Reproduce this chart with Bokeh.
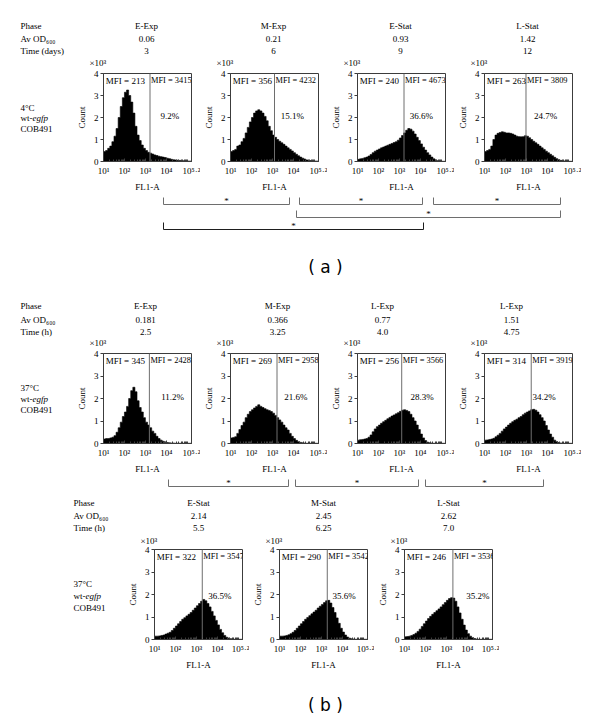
from bokeh.plotting import figure
from bokeh.layouts import column, row
from bokeh.models import Range1d, FixedTicker, Span, Label
from bokeh.core.properties import value
from bokeh.embed import file_html
from bokeh.resources import INLINE

SERIF = "Liberation Serif"
FS = "9px"

# ------------------------------------------------------------------ data
# histogram bins on log10(FL1-A) from 1.0 to 5.2, 0.1 wide; counts in x10^3
XMIN, XMAX, BIN_W = 1.0, 5.2, 0.1

# (a) 4 C cultures
a_phase = ["E-Exp", "M-Exp", "E-Stat", "L-Stat"]
a_od = ["0.06", "0.21", "0.93", "1.42"]
a_time = ["3", "6", "9", "12"]
a_mfi_lo = [213, 356, 240, 263]
a_mfi_hi = [3415, 4232, 4673, 3809]
a_pct = [9.2, 15.1, 36.6, 24.7]
a_gate = [3.22, 3.10, 3.22, 2.98]
counts_a_eexp = [0.45, 0.50, 0.60, 0.70, 0.90, 1.15, 1.50, 2.00, 2.50, 2.90,
                 3.15, 3.25, 3.00, 2.70, 2.20, 1.60, 1.20, 0.95, 0.75, 0.60,
                 0.50, 0.42, 0.38, 0.34, 0.30, 0.27, 0.24, 0.22, 0.20, 0.18,
                 0.15, 0.13, 0.10, 0.08, 0.07, 0.06, 0.05, 0.04, 0.03, 0.03,
                 0.02, 0.02]
counts_a_mexp = [0.45, 0.50, 0.55, 0.70, 0.75, 0.90, 1.05, 1.30, 1.55, 1.80,
                 2.00, 2.20, 2.30, 2.35, 2.30, 2.20, 2.05, 1.85, 1.60, 1.40,
                 1.20, 1.10, 1.00, 0.92, 0.85, 0.78, 0.70, 0.62, 0.55, 0.48,
                 0.40, 0.33, 0.26, 0.20, 0.15, 0.11, 0.07, 0.05, 0.04, 0.03,
                 0.02, 0.02]
counts_a_estat = [0.10, 0.12, 0.14, 0.17, 0.20, 0.25, 0.32, 0.40, 0.47, 0.52,
                  0.57, 0.62, 0.66, 0.70, 0.74, 0.78, 0.82, 0.86, 0.90, 0.97,
                  1.07, 1.18, 1.30, 1.42, 1.50, 1.47, 1.38, 1.25, 1.10, 0.95,
                  0.80, 0.65, 0.52, 0.40, 0.30, 0.20, 0.12, 0.06, 0.03, 0.02,
                  0.01, 0.01]
counts_a_lstat = [0.45, 0.50, 0.55, 0.70, 1.00, 1.20, 1.28, 1.32, 1.35, 1.33,
                  1.30, 1.30, 1.28, 1.25, 1.20, 1.15, 1.13, 1.12, 1.13, 1.17,
                  1.15, 1.08, 1.00, 0.92, 0.85, 0.78, 0.70, 0.62, 0.55, 0.47,
                  0.40, 0.33, 0.26, 0.19, 0.13, 0.08, 0.05, 0.03, 0.02, 0.02,
                  0.01, 0.01]
a_counts = [counts_a_eexp, counts_a_mexp, counts_a_estat, counts_a_lstat]

# (b) 37 C cultures, exponential phases
b_phase = ["E-Exp", "M-Exp", "L-Exp", "L-Exp"]
b_od = ["0.181", "0.366", "0.77", "1.51"]
b_time = ["2.5", "3.25", "4.0", "4.75"]
b_mfi_lo = [345, 269, 256, 314]
b_mfi_hi = [2428, 2958, 3566, 3919]
b_pct = [11.2, 21.6, 28.3, 34.2]
b_gate = [3.19, 3.22, 3.11, 3.23]
counts_b_eexp = [0.20, 0.22, 0.22, 0.25, 0.28, 0.35, 0.50, 0.70, 0.95, 1.20,
                 1.40, 1.65, 2.00, 2.35, 2.50, 2.30, 1.90, 1.60, 1.40, 1.15,
                 0.95, 0.82, 0.70, 0.55, 0.45, 0.32, 0.22, 0.15, 0.10, 0.06,
                 0.04, 0.03, 0.02, 0.02, 0.01, 0.01, 0.01, 0.01, 0.01, 0.01,
                 0.01, 0.01]
counts_b_mexp = [0.25, 0.27, 0.30, 0.45, 0.62, 0.80, 0.95, 1.15, 1.30, 1.42,
                 1.50, 1.58, 1.65, 1.72, 1.65, 1.60, 1.55, 1.50, 1.47, 1.42,
                 1.35, 1.25, 1.15, 1.05, 0.95, 0.82, 0.70, 0.60, 0.45, 0.32,
                 0.22, 0.14, 0.08, 0.05, 0.03, 0.02, 0.01, 0.01, 0.01, 0.01,
                 0.01, 0.01]
counts_b_lexp1 = [0.15, 0.17, 0.18, 0.20, 0.22, 0.28, 0.38, 0.52, 0.65, 0.75,
                  0.82, 0.90, 0.97, 1.03, 1.10, 1.16, 1.22, 1.27, 1.32, 1.37,
                  1.43, 1.48, 1.50, 1.47, 1.42, 1.30, 1.15, 1.00, 0.82, 0.62,
                  0.42, 0.25, 0.13, 0.06, 0.03, 0.02, 0.01, 0.01, 0.01, 0.01,
                  0.01, 0.01]
counts_b_lexp2 = [0.15, 0.16, 0.18, 0.20, 0.23, 0.30, 0.37, 0.45, 0.55, 0.65,
                  0.73, 0.82, 0.90, 0.97, 1.03, 1.08, 1.15, 1.20, 1.28, 1.35,
                  1.40, 1.45, 1.50, 1.52, 1.48, 1.40, 1.28, 1.15, 1.00, 0.80,
                  0.60, 0.42, 0.28, 0.15, 0.08, 0.04, 0.02, 0.01, 0.01, 0.01,
                  0.01, 0.01]
b_counts = [counts_b_eexp, counts_b_mexp, counts_b_lexp1, counts_b_lexp2]

# (b) 37 C cultures, stationary phases
c_phase = ["E-Stat", "M-Stat", "L-Stat"]
c_od = ["2.14", "2.45", "2.62"]
c_time = ["5.5", "6.25", "7.0"]
c_mfi_lo = [322, 290, 246]
c_mfi_hi = [3547, 3542, 3536]
c_pct = [36.5, 35.6, 35.2]
c_gate = [3.28, 3.28, 3.31]
counts_c_estat = [0.15, 0.15, 0.16, 0.18, 0.20, 0.24, 0.28, 0.32, 0.40, 0.50,
                  0.60, 0.70, 0.80, 0.90, 0.97, 1.05, 1.12, 1.20, 1.30, 1.40,
                  1.50, 1.60, 1.70, 1.78, 1.72, 1.60, 1.45, 1.25, 1.05, 0.85,
                  0.65, 0.45, 0.30, 0.18, 0.10, 0.06, 0.03, 0.02, 0.01, 0.01,
                  0.01, 0.01]
counts_c_mstat = [0.15, 0.15, 0.16, 0.18, 0.21, 0.26, 0.32, 0.40, 0.50, 0.60,
                  0.70, 0.80, 0.90, 0.98, 1.06, 1.14, 1.22, 1.30, 1.40, 1.48,
                  1.56, 1.64, 1.72, 1.74, 1.62, 1.42, 1.20, 0.96, 0.72, 0.50,
                  0.33, 0.20, 0.11, 0.06, 0.03, 0.02, 0.01, 0.01, 0.01, 0.01,
                  0.01, 0.01]
counts_c_lstat = [0.12, 0.13, 0.15, 0.18, 0.22, 0.28, 0.36, 0.46, 0.58, 0.70,
                  0.82, 0.93, 1.03, 1.12, 1.20, 1.28, 1.36, 1.45, 1.55, 1.64,
                  1.74, 1.82, 1.86, 1.84, 1.70, 1.45, 1.18, 0.90, 0.64, 0.42,
                  0.26, 0.15, 0.08, 0.04, 0.02, 0.01, 0.01, 0.01, 0.01, 0.01,
                  0.01, 0.01]
c_counts = [counts_c_estat, counts_c_mstat, counts_c_lstat]

# axis ticks
x_tick_exp = [1, 2, 3, 4, 5.2]
x_tick_labels = ["10\u00b9", "10\u00b2", "10\u00b3", "10\u2074", "10\u2075\u00b7\u00b2"]
y_ticks = [0, 1, 2, 3, 4]

# ------------------------------------------------------------------ label placement
# percent label positions (log10 x, y) per panel
a_pct_pos = [(4.17, 2.07), (3.95, 2.07), (4.05, 2.07), (3.92, 2.07)]
b_pct_pos = [(4.30, 2.08), (4.12, 2.08), (4.08, 2.08), (3.84, 2.08)]
c_pct_pos = [(4.12, 1.95), (4.08, 1.95), (4.50, 1.95)]

XTICKS = [10 ** e for e in x_tick_exp]
XMINOR = [k * 10 ** d for d in range(1, 5) for k in range(2, 10)] + [10 ** 5]

B_LEFT = 28
B_TOP = 5
OFF = 0  # page offset of the layout (bokeh page has no body margin)


def hist_panel(counts, gate, mfi_lo, mfi_hi, pct, pct_pos, width, frame_h, b_bottom):
    b_right = width - B_LEFT - 90
    p = figure(width=width, height=B_TOP + frame_h + b_bottom, x_axis_type="log",
               x_range=Range1d(10 ** XMIN, 10 ** XMAX), y_range=Range1d(0, 4),
               output_backend="svg", toolbar_location=None, frame_align=False,
               min_border_left=B_LEFT, min_border_right=b_right,
               min_border_top=B_TOP, min_border_bottom=b_bottom)
    p.grid.visible = False
    p.outline_line_color = "#3c3c3c"
    p.outline_line_width = 1
    # step outline of the histogram, drawn as one filled patch
    xs, ys = [10 ** XMIN], [0]
    for i, c in enumerate(counts):
        xs += [10 ** (XMIN + BIN_W * i), 10 ** (XMIN + BIN_W * (i + 1))]
        ys += [c, c]
    xs.append(10 ** (XMIN + BIN_W * len(counts)))
    ys.append(0)
    p.patch(xs, ys, fill_color="black", line_color="black", line_width=0.6)
    p.add_layout(Span(location=10 ** gate, dimension="height",
                      line_color="#6e6e6e", line_width=1))
    lab = dict(text_font=SERIF, text_baseline="middle",
               text_color="black", text_align="left")
    p.add_layout(Label(x=10 ** (XMIN + 0.11), y=3.68, text=f"MFI = {mfi_lo}",
                       text_font_size=FS, **lab))
    p.add_layout(Label(x=10 ** gate, x_offset=1, y=3.68, text=f"MFI = {mfi_hi}",
                       text_font_size="8.4px", **lab))
    p.text(x=[10 ** pct_pos[0]], y=[pct_pos[1]], text=[f"{pct}%"],
           text_align="center", text_font=value(SERIF), text_font_size=FS,
           text_baseline="middle", text_color="black")

    xa = p.xaxis[0]
    xa.ticker = FixedTicker(ticks=XTICKS, minor_ticks=XMINOR)
    xa.major_label_overrides = {t: l for t, l in zip(XTICKS, x_tick_labels)}
    xa.major_tick_in = 3
    xa.major_tick_out = 0
    xa.minor_tick_in = 2
    xa.minor_tick_out = 0
    xa.major_label_standoff = 4
    xa.axis_label = "FL1-A"
    xa.axis_label_standoff = 3
    ya = p.yaxis[0]
    ya.ticker = FixedTicker(ticks=y_ticks)
    ya.major_tick_in = 0
    ya.major_tick_out = 3
    ya.minor_tick_in = 0
    ya.minor_tick_out = 0
    ya.major_label_standoff = 2
    ya.axis_label = "Count"
    ya.axis_label_standoff = 4
    for ax in (xa, ya):
        ax.axis_line_color = "#3c3c3c"
        ax.major_tick_line_color = "#3c3c3c"
        ax.minor_tick_line_color = "#3c3c3c"
        ax.major_label_text_font = SERIF
        ax.major_label_text_font_size = FS
        ax.major_label_text_color = "black"
        ax.axis_label_text_font = SERIF
        ax.axis_label_text_font_size = FS
        ax.axis_label_text_font_style = "normal"
        ax.axis_label_text_color = "black"
    return p


def canvas(w, h):
    p = figure(width=w, height=h, x_range=Range1d(0, w), y_range=Range1d(h, 0),
               output_backend="svg", toolbar_location=None, frame_align=False,
               x_axis_location=None, y_axis_location=None, min_border=0)
    p.grid.visible = False
    p.outline_line_color = None
    return p


def put(c, top, x_page, y_page, text, align="center", style="normal",
        size=FS, font=SERIF):
    c.text(x=[x_page - OFF], y=[y_page - top], text=[text],
           text_font=value(font), text_font_size=size, text_font_style=style,
           text_align=align, text_baseline="middle", text_color="black")


def header(c, top, lab_x, ys, time_label, col_xs, phases, ods, times):
    put(c, top, lab_x, ys[0], "Phase", align="left")
    put(c, top, lab_x, ys[1], "Av OD\u2086\u2080\u2080", align="left")
    put(c, top, lab_x, ys[2], time_label, align="left")
    for x, a, b, t in zip(col_xs, phases, ods, times):
        put(c, top, x, ys[0], a)
        put(c, top, x, ys[1], b)
        put(c, top, x, ys[2], t)


def x1000(c, top, frame_lefts, y):
    for fl in frame_lefts:
        put(c, top, fl - 12, y, "\u00d710\u00b3", align="left")


def cond_label(c, top, x, ys, temp):
    put(c, top, x, ys[0], temp, align="left")
    put(c, top, x, ys[1], "wt-", align="left")
    put(c, top, x + 12, ys[1], "egfp", align="left", style="italic")
    put(c, top, x, ys[2], "COB491", align="left")


def brackets(c, top, spans, y_line, color):
    xs, ys = [], []
    for x0, x1 in spans:
        xs.append([x0 - OFF, x0 - OFF, x1 - OFF, x1 - OFF])
        ys.append([y_line - top - 7, y_line - top, y_line - top, y_line - top - 7])
        put(c, top, (x0 + x1) / 2, y_line - 4, "*", size="9px")
    c.multi_line(xs=xs, ys=ys, line_color=color, line_width=1)


W = 600
# rows: (top in page px, height)
R1, R2, R3, R4, R5, R6, R7, R8 = 0, 68, 194, 290, 348, 476, 544, 672
H1, H2, H3, H4, H5, H6, H7, H8 = 68, 126, 96, 58, 128, 68, 128, 50

LW_AB, FIG_W_AB = 73, 127
LW_C, FIG_W_C = 124, 125
fl_ab = [OFF + LW_AB + B_LEFT + FIG_W_AB * i for i in range(4)]
fl_c = [OFF + LW_C + B_LEFT + FIG_W_C * i for i in range(3)]

# ---- (a)
c1 = canvas(W, H1)
header(c1, R1, 20, [25, 38, 50], "Time (days)", [f + 45 for f in fl_ab],
       a_phase, a_od, a_time)
x1000(c1, R1, fl_ab, 62)

la = canvas(LW_AB, H2)
cond_label(la, R2, 20, [107, 117, 128], "4\u00b0C")
row_a = row(la, *[hist_panel(a_counts[i], a_gate[i], a_mfi_lo[i], a_mfi_hi[i],
                             a_pct[i], a_pct_pos[i], FIG_W_AB, 89, H2 - B_TOP - 89)
                  for i in range(4)])

c3 = canvas(W, H3)
brackets(c3, R3, [(163, 289), (299, 422), (433, 560)], 204, "#6e6e6e")
brackets(c3, R3, [(296, 560)], 217, "#6e6e6e")
brackets(c3, R3, [(163, 423)], 229, "#1e1e1e")
put(c3, R3, 325, 266, "( a )", size="17px", font="DejaVu Sans")

# ---- (b) exponential
c4 = canvas(W, H4)
header(c4, R4, 20, [305, 319, 331], "Time (h)", [145, 277, 382, 511],
       b_phase, b_od, b_time)
x1000(c4, R4, fl_ab, 342)

lb = canvas(LW_AB, H5)
cond_label(lb, R5, 20, [387, 398, 409], "37\u00b0C")
row_b = row(lb, *[hist_panel(b_counts[i], b_gate[i], b_mfi_lo[i], b_mfi_hi[i],
                             b_pct[i], b_pct_pos[i], FIG_W_AB, 91, H5 - B_TOP - 91)
                  for i in range(4)])

# ---- (b) stationary
c6 = canvas(W, H6)
brackets(c6, R6, [(168, 288), (295, 418), (425, 543)], 486, "#6e6e6e")
header(c6, R6, 73, [502, 515, 527], "Time (h)", [f + 46 for f in fl_c],
       c_phase, c_od, c_time)
x1000(c6, R6, fl_c, 540)

lc = canvas(LW_C, H7)
cond_label(lc, R7, 73, [583, 595, 607], "37\u00b0C")
row_c = row(lc, *[hist_panel(c_counts[i], c_gate[i], c_mfi_lo[i], c_mfi_hi[i],
                             c_pct[i], c_pct_pos[i], FIG_W_C, 90, H7 - B_TOP - 90)
                  for i in range(3)])

c8 = canvas(W, H8)
put(c8, R8, 325, 704, "( b )", size="17px", font="DejaVu Sans")

layout = column(c1, row_a, c3, c4, row_b, c6, row_c, c8)

open("out.html", "w").write(file_html(layout, INLINE))
